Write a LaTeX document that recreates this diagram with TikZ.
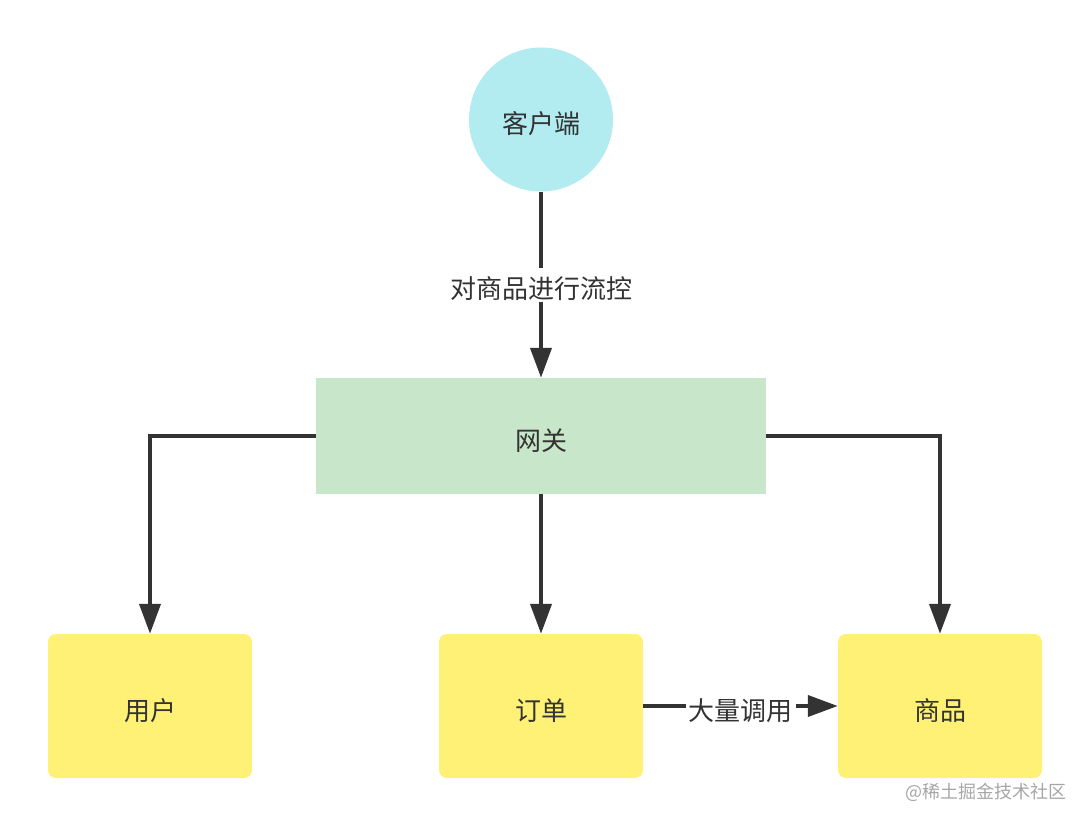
\documentclass[tikz,border=0pt]{standalone}
\usepackage{fontspec}
\newfontfamily\cjk{Noto Sans CJK SC}
\usetikzlibrary{arrows.meta,positioning}
\definecolor{ink}{HTML}{333333}
\definecolor{clientc}{HTML}{B2EBF0}
\definecolor{gatec}{HTML}{C8E6C9}
\definecolor{svcc}{HTML}{FFF176}
\definecolor{markc}{HTML}{A6A6A6}
\begin{document}
\begin{tikzpicture}[x=1pt,y=-1pt,text=ink,font=\cjk\fontsize{26}{30}\selectfont,
every node/.style={text height=31pt,text depth=3pt}]
\tikzset{svc/.style={fill=svcc,rounded corners=8pt,minimum width=204pt,minimum height=144pt,inner sep=0pt},
link/.style={draw=ink,line width=4pt,-{Triangle[length=30pt,width=21pt]}},
tag/.style={fill=white,inner xsep=3pt,inner ysep=0pt}}
\useasboundingbox(0,0)rectangle(1090,826);
\node[circle,fill=clientc,minimum size=144pt,inner sep=0pt](client)at(541,119.5){客户端};
\node[fill=gatec,minimum width=450pt,minimum height=116pt,inner sep=0pt](gateway)at(541,436){网关};
\node[svc](user)at(150,706){用户};
\node[svc](order)at(541,706){订单};
\node[svc](goods)at(940,706){商品};
\draw[link](client)--node[tag]{对商品进行流控}(gateway);
\draw[link](gateway.west)-|(user);
\draw[link](gateway.east)-|(goods);
\draw[link](gateway)--(order);
\draw[link](order)--node[tag]{大量调用}(goods);
\node[text=markc,font=\cjk\fontsize{18}{20}\selectfont,text height=13pt,text depth=2pt](mark)at(986,793){@稀土掘金技术社区};
\end{tikzpicture}
\end{document}
